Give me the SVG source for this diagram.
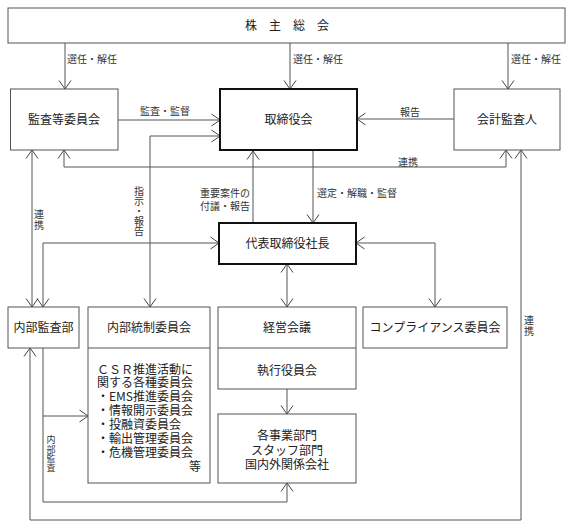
<svg xmlns="http://www.w3.org/2000/svg" width="573" height="529" viewBox="0 0 573 529">
<style>
.box{fill:#fff;stroke:#555;stroke-width:1}
.bold{fill:#fff;stroke:#111;stroke-width:2}
.t{font-family:"Noto Sans CJK JP","Noto Sans CJK SC",sans-serif;font-size:12px;fill:#222;text-anchor:middle}
.l{font-family:"Noto Sans CJK JP","Noto Sans CJK SC",sans-serif;font-size:10px;fill:#333}
.v{font-family:"Noto Sans CJK JP","Noto Sans CJK SC",sans-serif;font-size:10px;fill:#333;writing-mode:vertical-rl;text-orientation:upright}
.c{fill:none;stroke:#555;stroke-width:1}
</style>
<defs>
<marker id="a" viewBox="0 0 10 14" refX="9.5" refY="7" markerWidth="10" markerHeight="14" markerUnits="userSpaceOnUse" orient="auto-start-reverse">
<path d="M1,1 L9.5,7 L1,13" fill="none" stroke="#444" stroke-width="1"/>
</marker>
</defs>
<g id="connectors">
<path class="c" d="M65,43 V89" marker-end="url(#a)"/>
<path class="c" d="M290,43 V89" marker-end="url(#a)"/>
<path class="c" d="M508,43 V89" marker-end="url(#a)"/>
<path class="c" d="M118,120 H220" marker-end="url(#a)"/>
<path class="c" d="M454,119 H357" marker-end="url(#a)"/>
<path class="c" d="M220,136 H150 V307" marker-start="url(#a)" marker-end="url(#a)"/>
<path class="c" d="M64,150 V167 H506 V150" marker-start="url(#a)" marker-end="url(#a)"/>
<path class="c" d="M32,150 V307" marker-start="url(#a)" marker-end="url(#a)"/>
<path class="c" d="M313,151 V223" marker-end="url(#a)"/>
<path class="c" d="M253,223 V151" marker-end="url(#a)"/>
<path class="c" d="M219,243 H43 V307" marker-start="url(#a)" marker-end="url(#a)"/>
<path class="c" d="M287,264 V307" marker-start="url(#a)" marker-end="url(#a)"/>
<path class="c" d="M356,243 H435 V307" marker-start="url(#a)" marker-end="url(#a)"/>
<path class="c" d="M287,389 V414" marker-end="url(#a)"/>
<path class="c" d="M43,348 V502 H287 V483" marker-end="url(#a)"/>
<path class="c" d="M43,416 H88" marker-end="url(#a)"/>
<path class="c" d="M521,150 V520 H30 V348" marker-start="url(#a)" marker-end="url(#a)"/>
<text class="l" x="67" y="63">選任・解任</text>
<text class="l" x="293" y="63">選任・解任</text>
<text class="l" x="511" y="63">選任・解任</text>
<text class="l" x="165" y="115" text-anchor="middle">監査・監督</text>
<text class="l" x="410" y="116" text-anchor="middle">報告</text>
<text class="l" x="408" y="166" text-anchor="middle">連携</text>
<text class="v" x="139" y="186">指示・報告</text>
<text class="v" x="39" y="209" letter-spacing="1">連携</text>
<text class="l" text-anchor="end"><tspan x="250" y="197">重要案件の</tspan><tspan x="250" y="210">付議・報告</tspan></text>
<text class="l" x="317" y="197">選定・解職・監督</text>
<text class="v" x="51" y="435.5" style="font-size:9px" letter-spacing="0.3">内部監査</text>
<text class="v" x="529" y="315" letter-spacing="1">連携</text>
</g>
<g id="shareholders">
<rect class="box" x="8" y="8" width="557" height="35"/>
<text class="t" x="293" y="30" letter-spacing="12">株主総会</text>
</g>
<g id="audit-committee">
<rect class="box" x="10.5" y="89" width="107.5" height="61"/>
<text class="t" x="64" y="124">監査等委員会</text>
</g>
<g id="board">
<rect class="bold" x="220" y="89" width="137" height="61"/>
<text class="t" x="288.5" y="124">取締役会</text>
</g>
<g id="accounting-auditor">
<rect class="box" x="454" y="89" width="106" height="61"/>
<text class="t" x="507" y="124">会計監査人</text>
</g>
<g id="president">
<rect class="bold" x="219" y="223" width="137" height="41"/>
<text class="t" x="287.5" y="248">代表取締役社長</text>
</g>
<g id="internal-audit">
<rect class="box" x="8" y="307" width="71" height="41"/>
<text class="t" x="43.5" y="332">内部監査部</text>
</g>
<g id="internal-control">
<rect class="box" x="88" y="307" width="122" height="176"/>
<line class="box" x1="88" y1="348" x2="210" y2="348"/>
<text class="t" x="149" y="332">内部統制委員会</text>
<text class="t" style="text-anchor:start"><tspan x="97" y="374">ＣＳＲ推進活動に</tspan><tspan x="97" y="387">関する各種委員会</tspan><tspan x="97" y="401">・EMS推進委員会</tspan><tspan x="97" y="415">・情報開示委員会</tspan><tspan x="97" y="429">・投融資委員会</tspan><tspan x="97" y="443">・輸出管理委員会</tspan><tspan x="97" y="457">・危機管理委員会</tspan></text>
<text class="t" x="201" y="471" style="text-anchor:end">等</text>
</g>
<g id="management">
<rect class="box" x="218" y="307" width="138" height="82"/>
<line class="box" x1="218" y1="348" x2="356" y2="348"/>
<text class="t" x="287" y="332">経営会議</text>
<text class="t" x="287" y="375">執行役員会</text>
</g>
<g id="compliance">
<rect class="box" x="363" y="307" width="144" height="41"/>
<text class="t" x="435" y="332">コンプライアンス委員会</text>
</g>
<g id="divisions">
<rect class="box" x="218" y="414" width="138" height="69"/>
<text class="t"><tspan x="287" y="440">各事業部門</tspan><tspan x="287" y="455">スタッフ部門</tspan><tspan x="287" y="469">国内外関係会社</tspan></text>
</g>
</svg>
